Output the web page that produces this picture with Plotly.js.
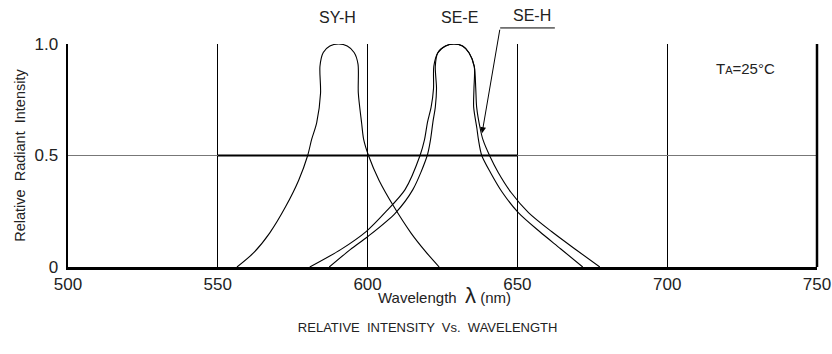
<!DOCTYPE html>
<html>
<head>
<meta charset="utf-8">
<script src="https://cdn.plot.ly/plotly-3.0.1.min.js"></script>
<style>
  html, body { margin: 0; padding: 0; background: #fff; }
  #chart { width: 832px; height: 354px; }
</style>
</head>
<body>
<div id="chart"></div>
<script>
// Wavelength (nm) and relative intensity
var syhX = [556.4, 561.9, 567.3, 572.7, 577.0, 580.0, 581.3, 583.0, 584.3, 584.1, 585.2, 587.4, 590.3, 593.2, 595.5, 596.8, 596.9, 598.0, 598.7, 600.3, 603.8, 608.7, 614.5, 619.3, 623.9];
var syhY = [0, 0.063, 0.152, 0.272, 0.389, 0.500, 0.571, 0.646, 0.780, 0.900, 0.962, 0.991, 1.0, 0.991, 0.962, 0.910, 0.780, 0.646, 0.571, 0.500, 0.389, 0.272, 0.152, 0.070, 0];

var seeX = [580.7, 591.0, 599.6, 606.1, 612.5, 617.5, 619.0, 620.0, 621.2, 622.0, 622.1, 623.4, 626.0, 628.8, 631.7, 633.9, 635.6, 635.5, 635.4, 636.5, 637.0, 638.1, 641.0, 645.0, 650.3, 657.4, 664.4, 671.8];
var seeY = [0, 0.078, 0.160, 0.248, 0.347, 0.500, 0.571, 0.650, 0.717, 0.800, 0.900, 0.960, 0.991, 1.0, 0.991, 0.960, 0.900, 0.800, 0.717, 0.620, 0.571, 0.500, 0.424, 0.334, 0.244, 0.159, 0.082, 0];

var sehX = [587.2, 594.2, 600.1, 609.2, 615.1, 619.9, 621.0, 621.8, 622.6, 623.0, 622.6, 623.4, 626.0, 628.8, 631.7, 633.9, 635.6, 636.1, 636.4, 637.6, 638.5, 640.7, 643.6, 647.9, 653.7, 661.4, 669.1, 677.5];
var sehY = [0, 0.078, 0.137, 0.241, 0.347, 0.500, 0.571, 0.650, 0.717, 0.800, 0.900, 0.960, 0.991, 1.0, 0.991, 0.960, 0.900, 0.800, 0.717, 0.620, 0.571, 0.500, 0.424, 0.334, 0.244, 0.159, 0.082, 0];

var xTicks = [500, 550, 600, 650, 700, 750];
var yTicks = [0, 0.5, 1];
var yTickText = ['0', '0.5', '1.0'];

var font = 'Liberation Sans, Arial, sans-serif';
var curve = {color: '#000', width: 1.1, shape: 'spline', smoothing: 0.8};

var traces = [
  {x: syhX, y: syhY, mode: 'lines', line: curve, name: 'SY-H'},
  {x: seeX, y: seeY, mode: 'lines', line: curve, name: 'SE-E'},
  {x: sehX, y: sehY, mode: 'lines', line: curve, name: 'SE-H'}
];

var layout = {
  width: 832,
  height: 354,
  margin: {l: 68, r: 15, t: 44, b: 87},
  paper_bgcolor: '#fff',
  plot_bgcolor: '#fff',
  showlegend: false,
  font: {family: font, color: '#222', size: 15},
  title: {
    text: 'RELATIVE  INTENSITY  Vs.  WAVELENGTH',
    font: {family: font, size: 13, color: '#222'},
    x: 0.514, xanchor: 'center',
    y: 0.076, yref: 'container', yanchor: 'middle'
  },
  xaxis: {
    range: [500, 750],
    tickvals: xTicks,
    ticks: '',
    showgrid: true,
    gridcolor: '#000',
    gridwidth: 1,
    showline: true,
    linecolor: '#000',
    linewidth: 2.5,
    zeroline: false,
    tickfont: {size: 17},
    fixedrange: true
  },
  yaxis: {
    range: [0, 1],
    tickvals: yTicks,
    ticktext: yTickText,
    ticks: '',
    ticklabelstandoff: 4,
    showgrid: true,
    gridcolor: '#777',
    gridwidth: 1.2,
    showline: true,
    linecolor: '#000',
    linewidth: 2.5,
    zeroline: false,
    tickfont: {size: 17},
    fixedrange: true,
    title: {
      text: 'Relative  Radiant  Intensity',
      font: {size: 14.5},
      standoff: 6
    }
  },
  shapes: [
    // bold segment of the 0.5 line between 550 and 650 nm
    {type: 'line', xref: 'x', yref: 'y', x0: 550, x1: 650, y0: 0.5, y1: 0.5,
     line: {color: '#000', width: 2}},
    // right border
    {type: 'line', xref: 'paper', yref: 'paper', x0: 1, x1: 1, y0: 0, y1: 1,
     line: {color: '#000', width: 2.5}},
    // horizontal leader for SE-H label
    {type: 'line', xref: 'paper', yref: 'paper', x0: 0.577, x1: 0.650, y0: 1.072, y1: 1.072,
     line: {color: '#000', width: 1}}
  ],
  annotations: [
    // x axis title
    {text: 'Wavelength  <span style="font-size:22px">λ</span> (nm)', xref: 'paper', yref: 'paper',
     x: 0.503, y: -0.13, xanchor: 'center', yanchor: 'middle', showarrow: false, font: {size: 15}},
    {text: 'SY-H', xref: 'paper', yref: 'paper', x: 0.360, y: 1.121, xanchor: 'center', yanchor: 'middle',
     showarrow: false, font: {size: 16}},
    {text: 'SE-E', xref: 'paper', yref: 'paper', x: 0.523, y: 1.121, xanchor: 'center', yanchor: 'middle',
     showarrow: false, font: {size: 16}},
    {text: 'SE-H', xref: 'paper', yref: 'paper', x: 0.619, y: 1.128, xanchor: 'center', yanchor: 'middle',
     showarrow: false, font: {size: 16}},
    {text: '', xref: 'x', yref: 'y', x: 638.2, y: 0.6,
     showarrow: true, arrowhead: 2, arrowsize: 1.2, arrowwidth: 1, arrowcolor: '#000',
     ax: 18, ay: -105},
    {text: 'T<span style="font-size:11px">A</span>=25°C', xref: 'paper', yref: 'paper',
     x: 0.905, y: 0.892, xanchor: 'center', yanchor: 'middle', showarrow: false, font: {size: 15}}
  ]
};

Plotly.newPlot('chart', traces, layout, {displayModeBar: false, staticPlot: true});
</script>
</body>
</html>
